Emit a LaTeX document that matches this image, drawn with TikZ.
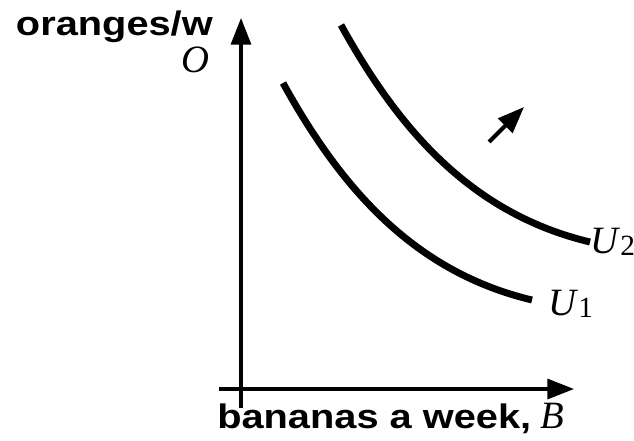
\documentclass[tikz,border=0pt]{standalone}
\usepackage{fontspec}
\setmainfont{Liberation Serif}
\newfontfamily\arialfont{Liberation Sans}
\usetikzlibrary{arrows.meta}
\newcommand{\largo}[1]{\scalebox{1.17}[1]{#1}}

\begin{document}
\begin{tikzpicture}[x=0.75pt, y=-0.75pt,
		>={Triangle[length=20pt, width=15pt]},
		asse/.style={line width=2.5pt, ->},
		curva/.style={line width=5.2pt},
		etich/.style={inner sep=0pt, font=\fontsize{29}{32}\selectfont},
		titolo/.style={inner sep=0pt, font=\fontsize{25.5}{28}\selectfont\arialfont\bfseries}]
	\useasboundingbox (0,0) rectangle (634,440);
	
	%% assi
	\coordinate (yb) at (241,408);
	\coordinate (yt) at (241,18);
	\coordinate (xl) at (219,389);
	\coordinate (xr) at (574,389);
	\draw[asse] (yb) -- (yt);
	\draw[asse] (xl) -- (xr);
	
	%% curve di indifferenza
	\draw[curva] (283,83) coordinate (u1a) .. controls (342,190) and (415,272) .. (532,300) coordinate (u1b);
	\draw[curva, shift={(58,-58)}] (283,83) coordinate (u2a) .. controls (342,190) and (415,272) .. (532,300) coordinate (u2b);
	
	%% freccia di spostamento
	\coordinate (fa) at (489,142);
	\coordinate (fb) at (524,107);
	\draw[->, line width=3pt] (fa) -- (fb);
	
	%% etichette
	\node[titolo, anchor=base east] (yl) at (213,35) {\largo{oranges/w}};
	\node[etich, anchor=base east] (O) at (210,72) {\textit{O}};
	\node[etich, anchor=base west] (U1) at (548,315) {\textit{U}\raisebox{-2pt}{\fontsize{22}{22}\selectfont 1}};
	\node[etich, anchor=base west] (U2) at (590,253) {\textit{U}\raisebox{-2pt}{\fontsize{22}{22}\selectfont 2}};
	\node[titolo, anchor=base west] (xl) at (217,428) {\largo{bananas a week,} \textit{\rmfamily\mdseries\fontsize{29}{32}\selectfont B}};
\end{tikzpicture}
\end{document}
